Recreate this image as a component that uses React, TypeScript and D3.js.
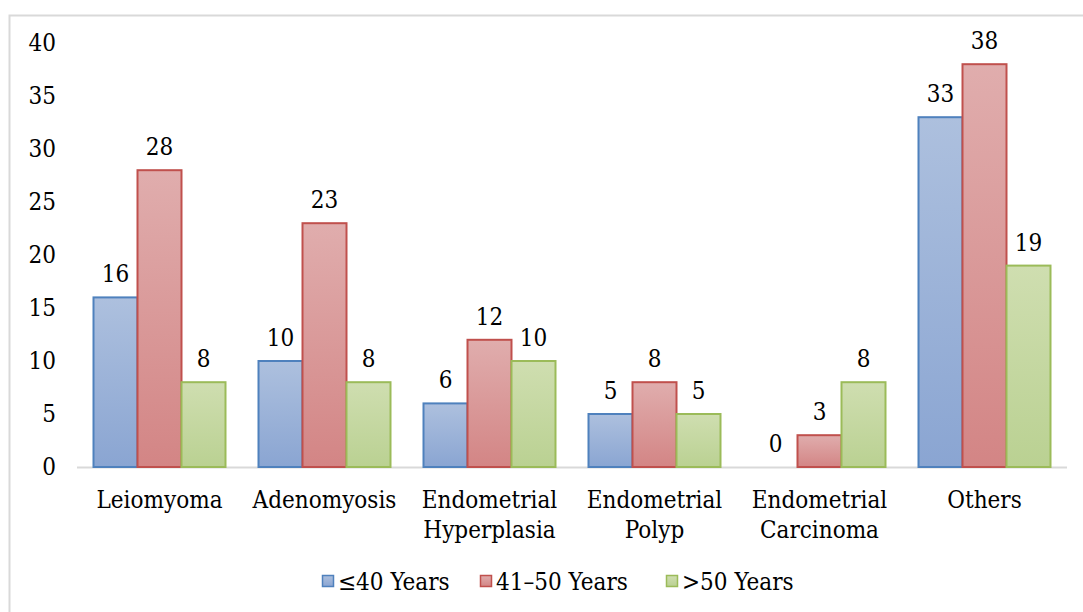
import React from "react";
import * as d3 from "d3";

const categories = [
  ["Leiomyoma"],
  ["Adenomyosis"],
  ["Endometrial", "Hyperplasia"],
  ["Endometrial", "Polyp"],
  ["Endometrial", "Carcinoma"],
  ["Others"],
];
const seriesNames = ["≤40 Years", "41–50 Years", ">50 Years"];
const under40 = [16, 10, 6, 5, 0, 33];
const from41to50 = [28, 23, 12, 8, 3, 38];
const over50 = [8, 8, 10, 5, 8, 19];
const yTicks = [0, 5, 10, 15, 20, 25, 30, 35, 40];

const seriesValues = [under40, from41to50, over50];
const strokes = ["#4f81bd", "#c0504d", "#9bbb59"];
const gradTop = ["#adc0de", "#e0adad", "#cfdeb0"];
const gradBot = ["#8aa5d2", "#d38585", "#bad192"];

export default function App() {
  const W = 1083, H = 612;
  const left = 77, right = 1067, y0 = 467, yTop = 43;
  const x = d3.scaleBand<number>().domain(d3.range(categories.length)).range([left, right]).paddingInner(0).paddingOuter(0);
  const y = d3.scaleLinear().domain([0, 40]).range([y0, yTop]);
  const bw = x.bandwidth();
  const groupW = bw * 0.8;
  const xs = d3.scaleBand<number>().domain([0, 1, 2]).range([0, groupW]);
  const fs = 24;
  const tstyle = { fontFamily: "'DejaVu Serif Condensed', 'DejaVu Serif'", fontStretch: "condensed" as const };
  const legendItems = [
    { sx: 322, tx: 338 },
    { sx: 480, tx: 496 },
    { sx: 666, tx: 682 },
  ];
  return (
    <svg width={W} height={H} style={{ position: "absolute", left: 0, top: 0, background: "#fff" }}>
      <defs>
        {strokes.map((_, i) => (
          <linearGradient key={i} id={`g${i}`} x1="0" y1="0" x2="0" y2="1">
            <stop offset="0" stopColor={gradTop[i]} />
            <stop offset="1" stopColor={gradBot[i]} />
          </linearGradient>
        ))}
      </defs>
      <rect x={9.5} y={15.5} width={W + 10} height={H + 10} fill="#fff" stroke="#d9d9d9" strokeWidth={2} />
      <line x1={left} x2={right} y1={y0 + 0.5} y2={y0 + 0.5} stroke="#d9d9d9" strokeWidth={2} />
      {yTicks.map((t) => (
        <text key={t} style={tstyle} x={56} y={y(t)} dy="0.35em" textAnchor="end" fontSize={fs} fill="#000">{t}</text>
      ))}
      {categories.map((cat, ci) => {
        const gx = (x(ci) as number) + (bw - groupW) / 2;
        return (
          <g key={ci}>
            {seriesValues.map((vals, si) => {
              const v = vals[ci];
              const bx = gx + (xs(si) as number);
              return (
                <g key={si}>
                  {v > 0 && (
                    <rect x={bx} y={y(v)} width={xs.bandwidth()} height={y0 - y(v)} fill={`url(#g${si})`} stroke={strokes[si]} strokeWidth={2} />
                  )}
                  <text style={tstyle} x={bx + xs.bandwidth() / 2} y={y(v) - 15} textAnchor="middle" fontSize={fs} fill="#000">{v}</text>
                </g>
              );
            })}
            {cat.map((line, li) => (
              <text key={li} style={tstyle} x={(x(ci) as number) + bw / 2} y={508 + li * 30} textAnchor="middle" fontSize={fs} fill="#000">{line}</text>
            ))}
          </g>
        );
      })}
      {seriesNames.map((name, i) => (
        <g key={i}>
          <rect x={legendItems[i].sx + 0.5} y={575.5} width={11} height={11} fill={`url(#g${i})`} stroke={strokes[i]} strokeWidth={1.5} />
          <text style={tstyle} x={legendItems[i].tx} y={590} fontSize={fs} fill="#000">{name}</text>
        </g>
      ))}
    </svg>
  );
}
